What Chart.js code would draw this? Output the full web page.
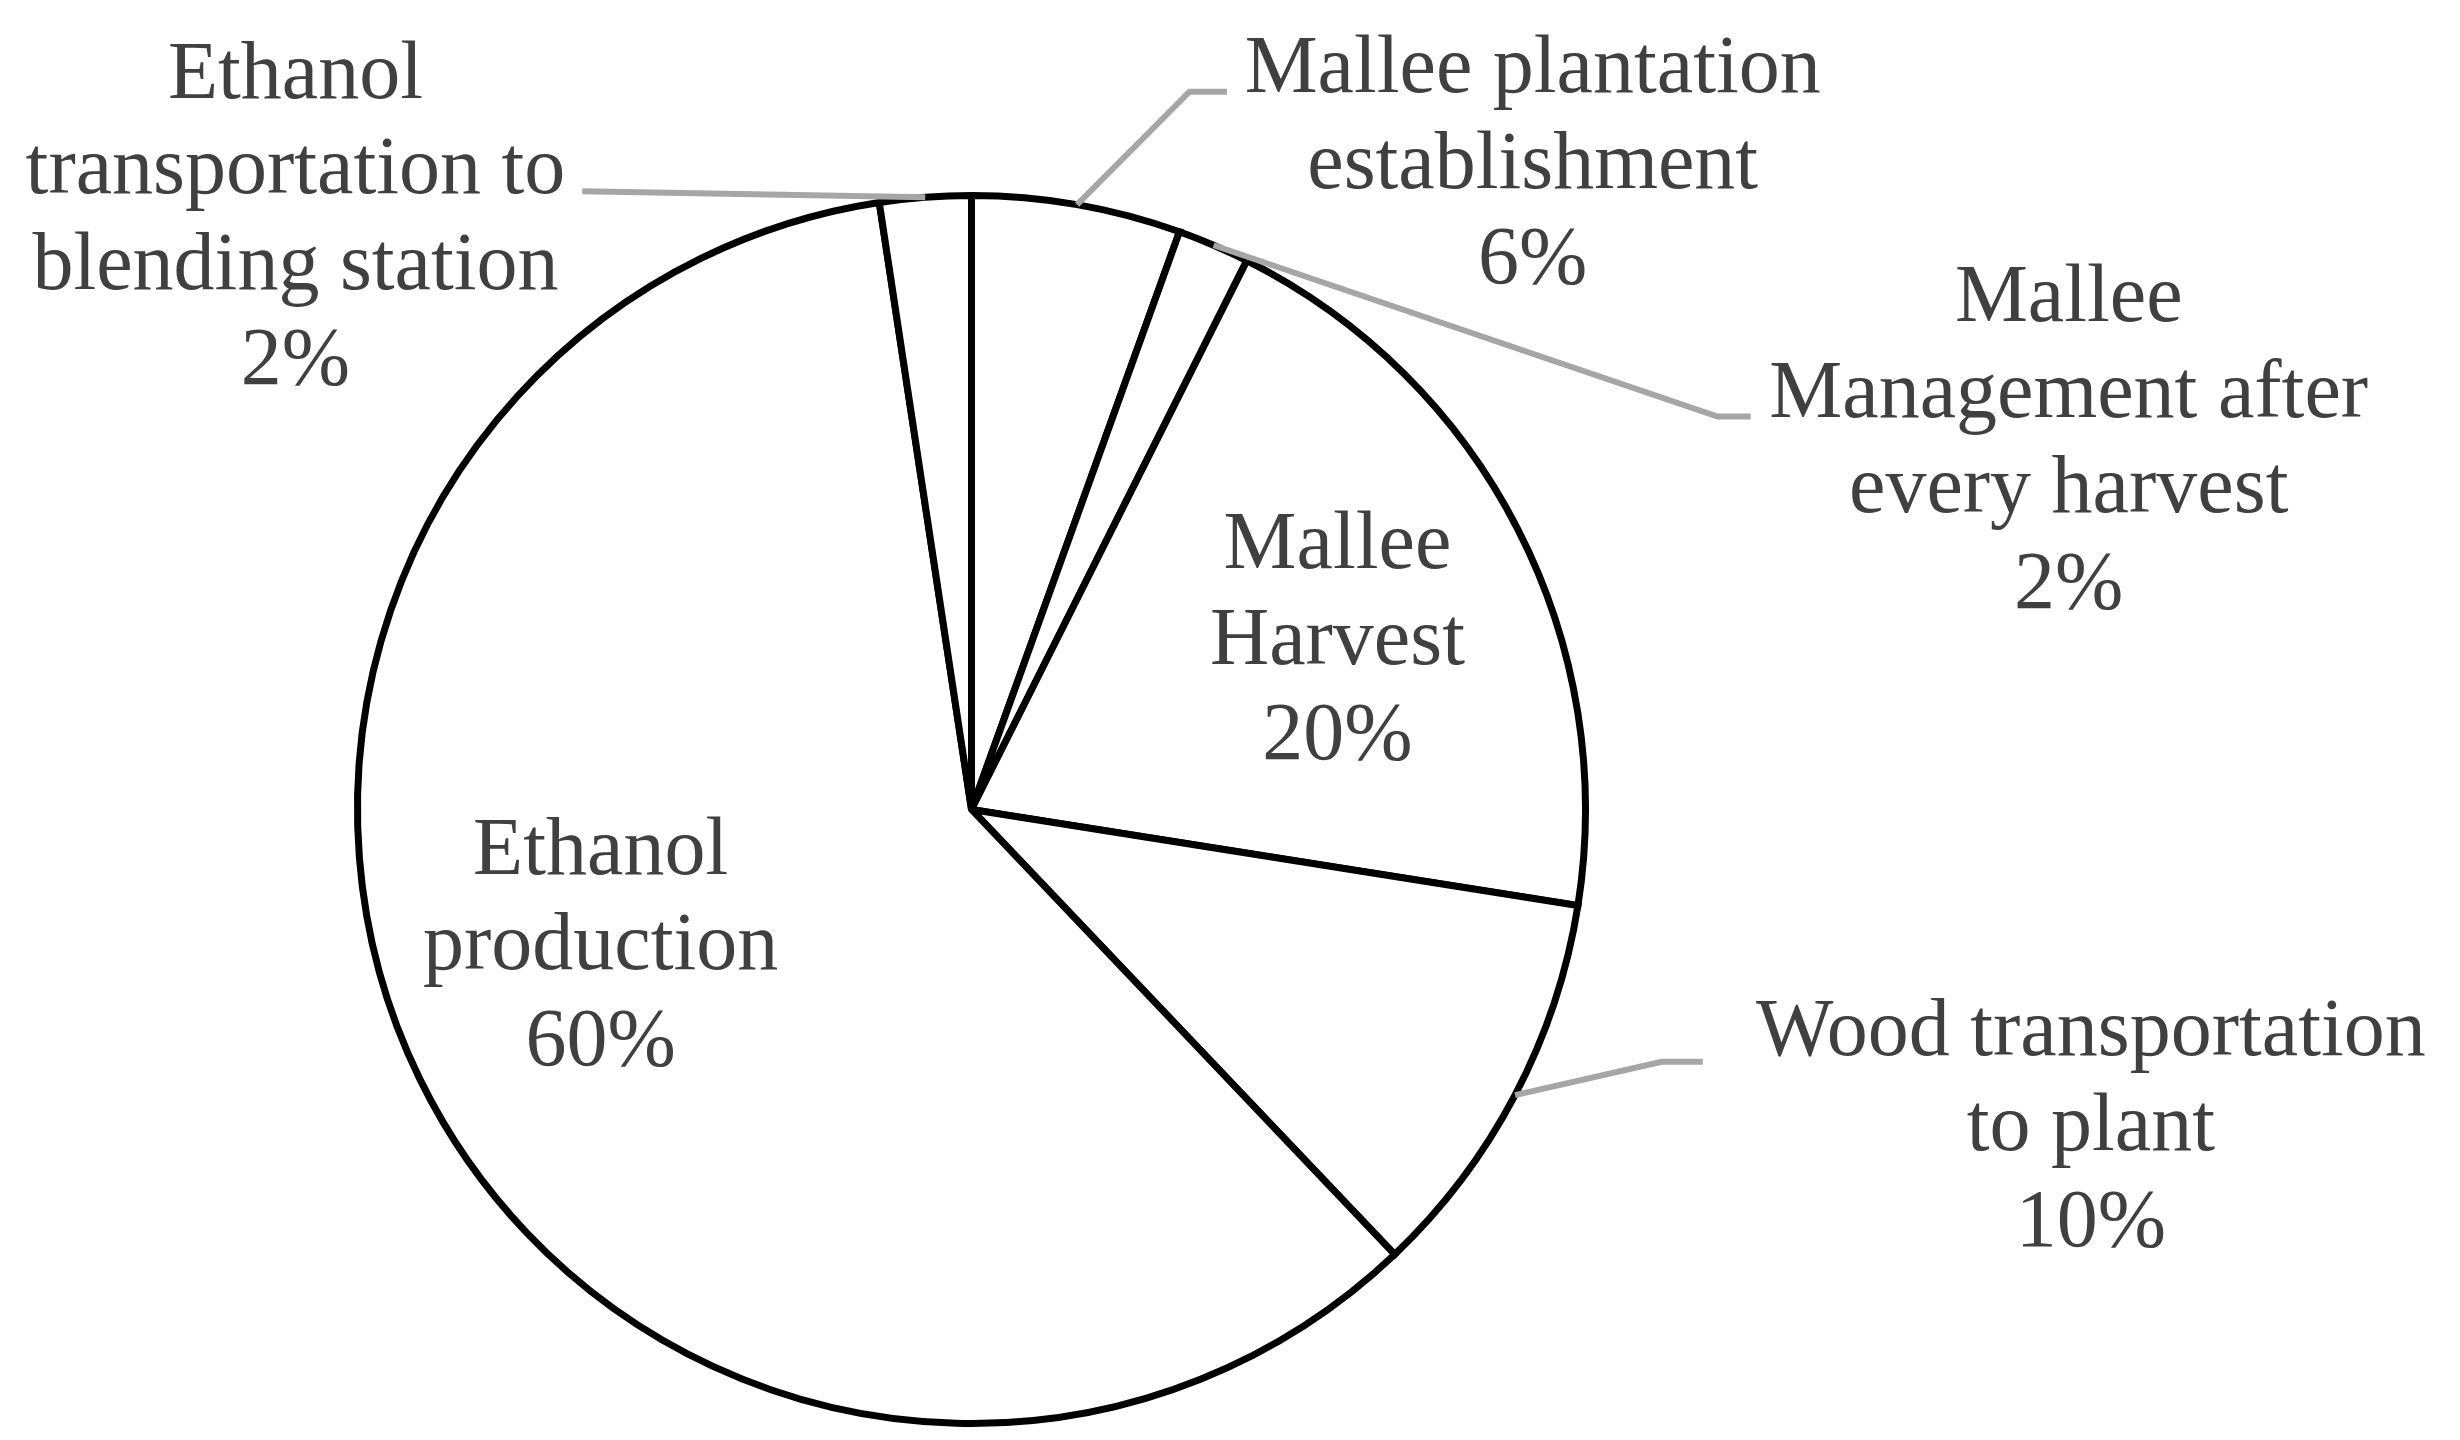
<!DOCTYPE html>
<html>
<head>
<meta charset="utf-8">
<script src="https://cdn.jsdelivr.net/npm/chart.js@4.4.1/dist/chart.umd.min.js"></script>
<style>
  html, body { margin: 0; padding: 0; background: #ffffff; }
  #wrap { width: 2460px; height: 1440px; position: relative; }
</style>
</head>
<body>
<div id="wrap"><canvas id="c"></canvas></div>
<script>
// ---- data ----
const categories = [
  "Mallee plantation establishment",
  "Mallee Management after every harvest",
  "Mallee Harvest",
  "Wood transportation to plant",
  "Ethanol production",
  "Ethanol transportation to blending station"
];
const shares = [5.5, 1.9, 20.1, 10.4, 59.7, 2.4];
const percentLabels = ["6%", "2%", "20%", "10%", "60%", "2%"];

// ---- label layout (wrapping + placement relative to pie centre, in radius units) ----
const labelLines = [
  ["Mallee plantation", "establishment"],
  ["Mallee", "Management after", "every harvest"],
  ["Mallee", "Harvest"],
  ["Wood transportation", "to plant"],
  ["Ethanol", "production"],
  ["Ethanol", "transportation to", "blending station"]
];
const labelPos = [
  [0.914, -1.013],
  [1.787, -0.562],
  [0.596, -0.237],
  [1.823, 0.555],
  [-0.604, 0.260],
  [-1.101, -0.926]
];
const leaderPts = [
  [[0.355, -1.169], [0.416, -1.169]],
  [[1.215, -0.640], [1.269, -0.640]],
  null,
  [[1.124, 0.411], [1.191, 0.411]],
  null,
  [[-0.634, -1.007]]
];

const FONT = "82px 'Liberation Serif', 'Times New Roman', serif";
const LINE_H = 95.5;

const labelPlugin = {
  id: 'pieLabels',
  afterDatasetsDraw(chart) {
    const ctx = chart.ctx;
    const meta = chart.getDatasetMeta(0);
    meta.data.forEach((arc, i) => {
      const p = arc.getProps(['x', 'y', 'startAngle', 'endAngle', 'outerRadius'], true);
      const R = p.outerRadius;
      const mid = (p.startAngle + p.endAngle) / 2;
      const ax = p.x + Math.cos(mid) * R;
      const ay = p.y + Math.sin(mid) * R;
      ctx.save();
      if (leaderPts[i]) {
        ctx.strokeStyle = '#A6A6A6';
        ctx.lineWidth = 6;
        ctx.lineJoin = 'miter';
        ctx.beginPath();
        ctx.moveTo(ax, ay);
        leaderPts[i].forEach(pt => ctx.lineTo(p.x + pt[0] * R, p.y + pt[1] * R));
        ctx.stroke();
      }
      const lines = labelLines[i].concat([percentLabels[i]]);
      const cx = p.x + labelPos[i][0] * R;
      const cy = p.y + labelPos[i][1] * R;
      ctx.font = FONT;
      ctx.fillStyle = '#404040';
      ctx.textAlign = 'center';
      ctx.textBaseline = 'alphabetic';
      const n = lines.length;
      lines.forEach((t, k) => {
        ctx.fillText(t, cx, cy + (k - (n - 1) / 2) * LINE_H);
      });
      ctx.restore();
    });
  }
};

new Chart(document.getElementById('c'), {
  type: 'pie',
  data: {
    labels: categories,
    datasets: [{
      data: shares,
      backgroundColor: '#ffffff',
      borderColor: '#000000',
      borderWidth: 7,
      hoverOffset: 0,
      offset: 0,
      borderJoinStyle: 'miter'
    }]
  },
  options: {
    responsive: true,
    maintainAspectRatio: false,
    animation: false,
    events: [],
    layout: { padding: { left: 354, top: 192, right: 871, bottom: 13 } },
    plugins: {
      legend: { display: false },
      tooltip: { enabled: false },
      title: { display: false }
    }
  },
  plugins: [labelPlugin]
});
</script>
</body>
</html>
